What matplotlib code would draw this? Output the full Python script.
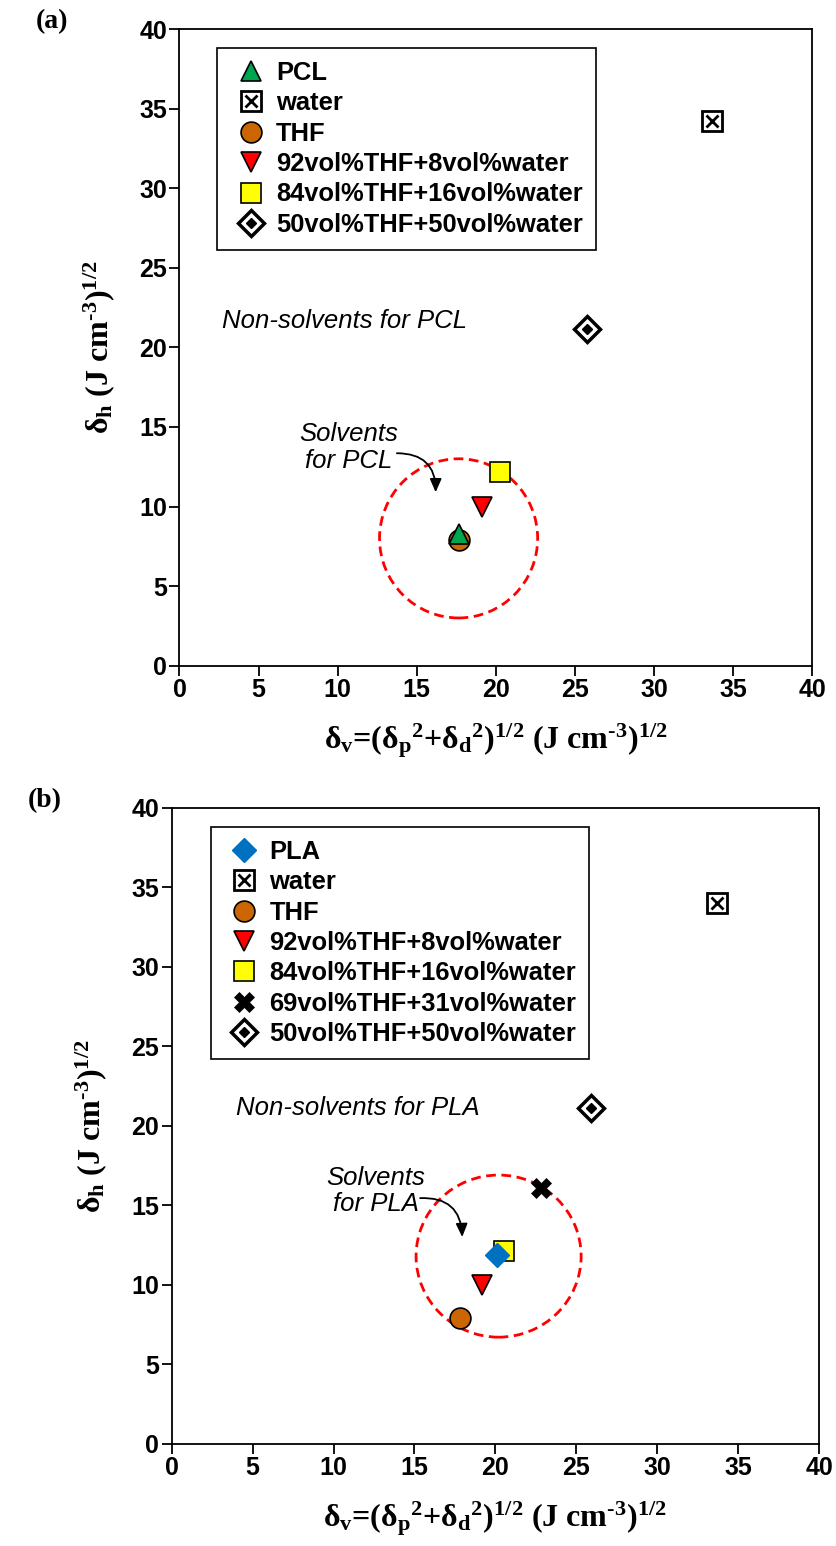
import matplotlib
matplotlib.use("Agg")
import matplotlib.pyplot as plt
from matplotlib.patches import Circle
from matplotlib.legend_handler import HandlerTuple

plt.rcParams['font.family'] = ['Liberation Sans', 'DejaVu Sans']
plt.rcParams['mathtext.fontset'] = 'custom'
plt.rcParams['mathtext.rm'] = 'Liberation Serif:bold'
plt.rcParams['mathtext.it'] = 'Liberation Serif:bold'
plt.rcParams['mathtext.bf'] = 'Liberation Serif:bold'

# panel (a): PCL
labels_a = ['PCL', 'water', 'THF', '92vol%THF+8vol%water',
            '84vol%THF+16vol%water', '50vol%THF+50vol%water']
dv_a = [17.7, 33.7, 17.7, 19.1, 20.3, 25.8]
dh_a = [8.25, 34.2, 7.9, 10.0, 12.2, 21.15]
circle_a = (17.65, 8.0, 5.0)

# panel (b): PLA
labels_b = ['PLA', 'water', 'THF', '92vol%THF+8vol%water',
            '84vol%THF+16vol%water', '69vol%THF+31vol%water',
            '50vol%THF+50vol%water']
dv_b = [20.1, 33.7, 17.8, 19.2, 20.55, 22.8, 25.9]
dh_b = [11.9, 34.0, 7.9, 10.0, 12.1, 16.1, 21.1]
circle_b = (20.2, 11.8, 5.1)

ticks = [0, 5, 10, 15, 20, 25, 30, 35, 40]


def styles(label):
    # list of marker layers for each substance
    if label == 'PCL':
        return [dict(marker='^', ms=15, mfc='#00A550', mec='black', mew=1.2)]
    if label == 'PLA':
        return [dict(marker='D', ms=12, mfc='#0070C0', mec='#0070C0', mew=1)]
    if label == 'water':
        return [dict(marker='s', ms=15, mfc='white', mec='black', mew=2),
                dict(marker='x', ms=9, mec='black', mew=2)]
    if label == 'THF':
        return [dict(marker='o', ms=15, mfc='#CC6600', mec='black', mew=1.2)]
    if label.startswith('92'):
        return [dict(marker='v', ms=15, mfc='#FF0000', mec='black', mew=1.2)]
    if label.startswith('84'):
        return [dict(marker='s', ms=14, mfc='#FFFF00', mec='black', mew=1.2)]
    if label.startswith('69'):
        return [dict(marker='X', ms=15, mfc='black', mec='black', mew=0.5)]
    return [dict(marker='D', ms=13, mfc='white', mec='black', mew=2.5),
            dict(marker='D', ms=5.5, mfc='black', mec='black', mew=1)]


def draw_panel(ax, labels, dv, dh, circle, polymer, sol_xy, arrow_xy, arrow_to, non_xy):
    handles = {}
    order = list(range(1, len(labels))) + [0]
    for i in order:
        parts = []
        for st in styles(labels[i]):
            ln, = ax.plot([dv[i]], [dh[i]], ls='none', zorder=5 + (i == 0), **st)
            parts.append(ln)
        handles[i] = tuple(parts)
    cx, cy, r = circle
    ax.add_patch(Circle((cx, cy), r, fill=False, ec='#FF0000', lw=2,
                        ls=(0, (3.5, 2)), zorder=3))
    ax.text(sol_xy[0], sol_xy[1], 'Solvents\nfor ' + polymer, style='italic',
            fontsize=18.5, ha='center', va='center', linespacing=1.15)
    ax.annotate('', xy=arrow_to, xytext=arrow_xy,
                arrowprops=dict(arrowstyle='-|>,head_length=0.8,head_width=0.35',
                                color='black', lw=1.3,
                                connectionstyle='arc3,rad=-0.5',
                                shrinkA=0, shrinkB=0))
    ax.text(non_xy[0], non_xy[1], 'Non-solvents for ' + polymer, style='italic',
            fontsize=18.5, ha='left', va='center')

    ax.set_xlim(0, 40)
    ax.set_ylim(0, 40)
    ax.set_xticks(ticks)
    ax.set_yticks(ticks)
    ax.tick_params(direction='out', length=7, width=1.3, pad=2,
                   labelsize=18)
    for lab in ax.get_xticklabels() + ax.get_yticklabels():
        lab.set_fontweight('bold')
    for sp in ax.spines.values():
        sp.set_linewidth(1.3)
    ax.set_xlabel(r'$\delta_{v}$=$(\delta_{p}{}^{2}$+$\delta_{d}{}^{2})^{1/2}$ (J cm$^{\text{-}3}$)$^{1/2}$',
                  fontsize=23, fontfamily='Liberation Serif', fontweight='bold',
                  labelpad=14)
    ax.set_ylabel(r'$\delta_{h}$ (J cm$^{\text{-}3}$)$^{1/2}$',
                  fontsize=23, fontfamily='Liberation Serif', fontweight='bold',
                  labelpad=16)
    leg = ax.legend([handles[i] for i in range(len(labels))], labels,
                    handler_map={tuple: HandlerTuple(ndivide=1, pad=0)},
                    loc='upper left', bbox_to_anchor=(0.06, 0.97),
                    borderaxespad=0, fancybox=False, framealpha=1,
                    edgecolor='black', handlelength=1.6, handletextpad=0.2,
                    labelspacing=0.25, borderpad=0.5,
                    prop=dict(size=18.4, weight='bold'))
    leg.get_frame().set_linewidth(1.2)


fig = plt.figure(figsize=(8.36, 15.46), dpi=100)
ax1 = fig.add_axes([0.2147, 0.5694, 0.7566, 0.4118])
ax2 = fig.add_axes([0.2054, 0.0662, 0.7743, 0.4112])

draw_panel(ax1, labels_a, dv_a, dh_a, circle_a, 'PCL',
           sol_xy=(10.7, 13.7), arrow_xy=(13.75, 13.35), arrow_to=(16.2, 10.9),
           non_xy=(2.7, 21.65))
draw_panel(ax2, labels_b, dv_b, dh_b, circle_b, 'PLA',
           sol_xy=(12.6, 15.9), arrow_xy=(15.35, 15.45), arrow_to=(17.95, 13.0),
           non_xy=(4.0, 21.1))

fig.text(52 / 836, 1 - 22 / 1546, '(a)', fontsize=20, fontfamily='Liberation Serif',
         fontweight='bold', ha='center', va='center')
fig.text(45 / 836, 1 - 801 / 1546, '(b)', fontsize=20, fontfamily='Liberation Serif',
         fontweight='bold', ha='center', va='center')

fig.savefig('out.png', dpi=100)
